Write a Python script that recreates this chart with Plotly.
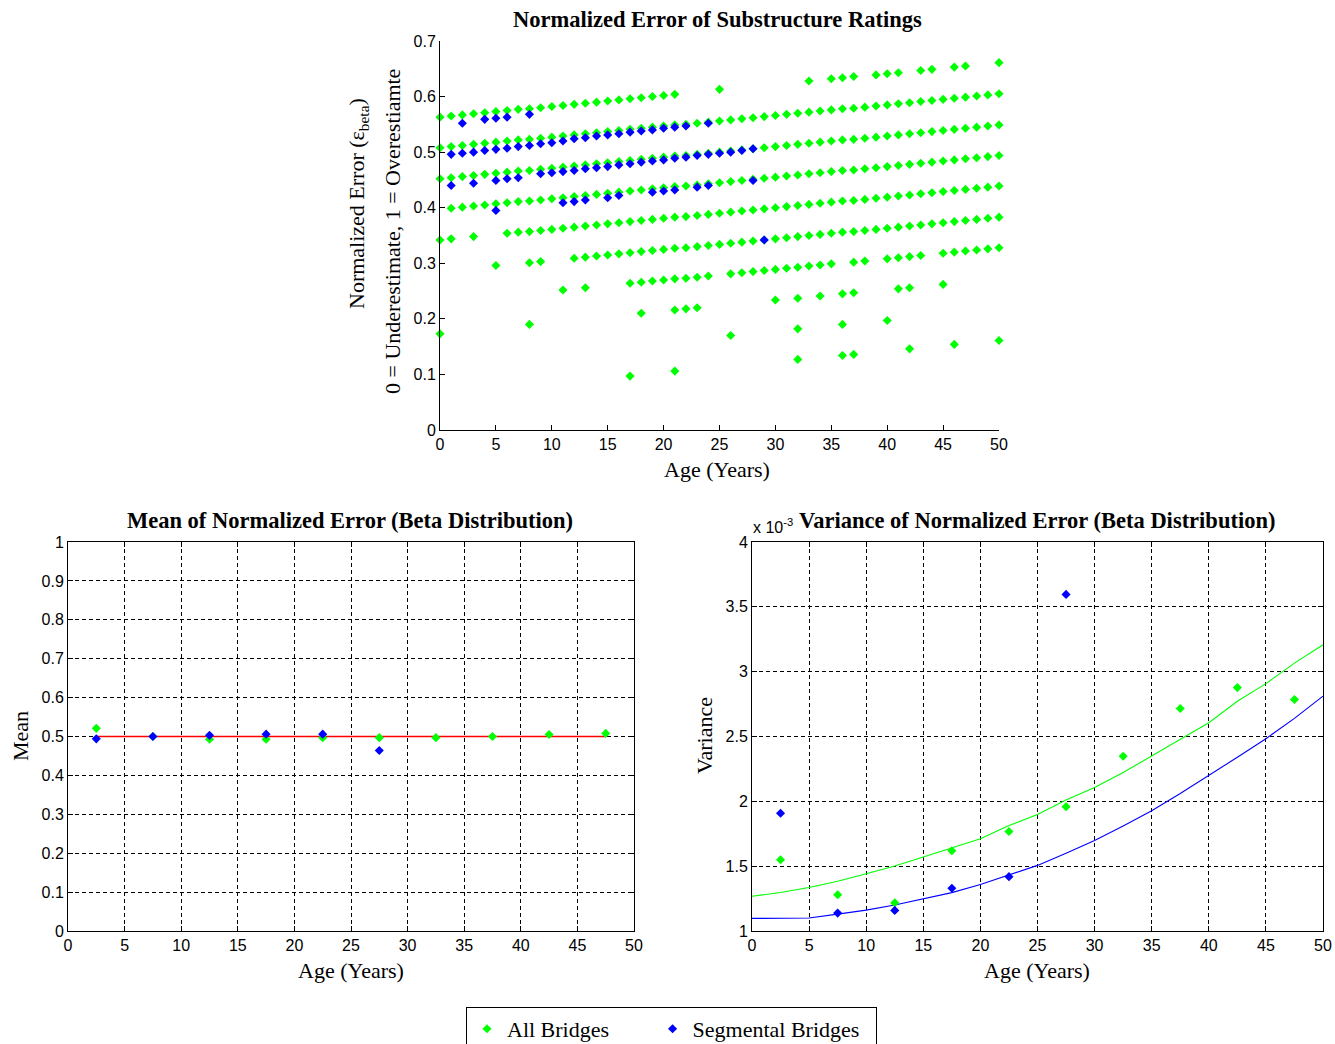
import plotly.graph_objects as go

W, H = 1335, 1044

# ---------------- Top chart: Normalized error of substructure ratings ----------------
# "All Bridges" (green), listed row by row
row0_age = [0, 1, 2, 3, 4, 5, 6, 7, 8, 9, 10, 11, 12, 13, 14, 15, 16, 17, 18, 19, 20, 21,
            25, 33, 35, 36, 37, 39, 40, 41, 43, 44, 46, 47, 50]
row0_val = [0.563, 0.565, 0.567, 0.569, 0.571, 0.573, 0.575, 0.577, 0.578, 0.580, 0.582,
            0.584, 0.586, 0.588, 0.590, 0.592, 0.594, 0.596, 0.598, 0.600, 0.602, 0.604,
            0.613, 0.628, 0.632, 0.634, 0.636, 0.639, 0.641, 0.643, 0.647, 0.649, 0.653,
            0.655, 0.661]

row1_age = [0, 1, 2, 3, 4, 5, 6, 7, 8, 9, 10, 11, 12, 13, 14, 15, 16, 17, 18, 19, 20, 21,
            22, 23, 24, 25, 26, 27, 28, 29, 30, 31, 32, 33, 34, 35, 36, 37, 38, 39, 40, 41,
            42, 43, 44, 45, 46, 47, 48, 49, 50]
row1_val = [0.508, 0.510, 0.512, 0.514, 0.516, 0.518, 0.520, 0.522, 0.523, 0.525,
            0.527, 0.529, 0.531, 0.533, 0.535, 0.537, 0.539, 0.541, 0.543, 0.545,
            0.547, 0.549, 0.550, 0.552, 0.554, 0.556, 0.558, 0.560, 0.562, 0.564,
            0.566, 0.568, 0.570, 0.572, 0.574, 0.576, 0.578, 0.579, 0.581, 0.583,
            0.585, 0.587, 0.589, 0.591, 0.593, 0.595, 0.597, 0.599, 0.601, 0.603, 0.605]

row2_age = [0, 1, 2, 3, 4, 5, 6, 7, 8, 9, 10, 11, 12, 13, 14, 15, 16, 17, 18, 19, 20, 21,
            22, 23, 24, 25, 26, 27, 28, 29, 30, 31, 32, 33, 34, 35, 36, 37, 38, 39, 40, 41,
            42, 43, 44, 45, 46, 47, 48, 49, 50]
row2_val = [0.452, 0.454, 0.456, 0.458, 0.460, 0.462, 0.464, 0.466, 0.467, 0.469,
            0.471, 0.473, 0.475, 0.477, 0.479, 0.481, 0.483, 0.485, 0.487, 0.489,
            0.491, 0.493, 0.494, 0.496, 0.498, 0.500, 0.502, 0.504, 0.506, 0.508,
            0.510, 0.512, 0.514, 0.516, 0.518, 0.520, 0.522, 0.523, 0.525, 0.527,
            0.529, 0.531, 0.533, 0.535, 0.537, 0.539, 0.541, 0.543, 0.545, 0.547, 0.549]

row3_age = [1, 2, 3, 4, 5, 6, 7, 8, 9, 10, 11, 12, 13, 14, 15, 16, 17, 18, 19, 20, 21,
            22, 23, 24, 25, 26, 27, 28, 29, 30, 31, 32, 33, 34, 35, 36, 37, 38, 39, 40, 41,
            42, 43, 44, 45, 46, 47, 48, 49, 50]
row3_val = [0.399, 0.401, 0.403, 0.405, 0.407, 0.409, 0.411, 0.412, 0.414, 0.416,
            0.418, 0.420, 0.422, 0.424, 0.426, 0.428, 0.430, 0.432, 0.434, 0.436,
            0.438, 0.439, 0.441, 0.443, 0.445, 0.447, 0.449, 0.451, 0.453, 0.455,
            0.457, 0.459, 0.461, 0.463, 0.465, 0.467, 0.468, 0.470, 0.472, 0.474,
            0.476, 0.478, 0.480, 0.482, 0.484, 0.486, 0.488, 0.490, 0.492, 0.494]

row4_age = [0, 1, 3, 6, 7, 8, 9, 10, 11, 12, 13, 14, 15, 16, 17, 18, 19, 20, 21,
            22, 23, 24, 25, 26, 27, 28, 29, 30, 31, 32, 33, 34, 35, 36, 37, 38, 39, 40, 41,
            42, 43, 44, 45, 46, 47, 48, 49, 50]
row4_val = [0.342, 0.344, 0.348, 0.354, 0.356, 0.357, 0.359, 0.361,
            0.363, 0.365, 0.367, 0.369, 0.371, 0.373, 0.375, 0.377, 0.379, 0.381,
            0.383, 0.384, 0.386, 0.388, 0.390, 0.392, 0.394, 0.396, 0.398, 0.400,
            0.402, 0.404, 0.406, 0.408, 0.410, 0.412, 0.413, 0.415, 0.417, 0.419,
            0.421, 0.423, 0.425, 0.427, 0.429, 0.431, 0.433, 0.435, 0.437, 0.439]

row5_age = [5, 8, 9, 12, 13, 14, 15, 16, 17, 18, 19, 20, 21,
            22, 23, 24, 25, 26, 27, 28, 29, 30, 31, 32, 33, 34, 35, 36, 37, 38, 39, 40, 41,
            42, 43, 44, 45, 46, 47, 48, 49, 50]
row5_val = [0.296, 0.301, 0.303, 0.309, 0.311, 0.313, 0.315, 0.317, 0.319, 0.321, 0.323,
            0.325, 0.327, 0.328, 0.330, 0.332, 0.334, 0.336, 0.338, 0.340, 0.342, 0.344,
            0.346, 0.348, 0.350, 0.352, 0.354, 0.356, 0.357, 0.359, 0.361, 0.363,
            0.365, 0.367, 0.369, 0.371, 0.373, 0.375, 0.377, 0.379, 0.381, 0.383]

row6_age = [11, 13, 17, 18, 19, 20, 21, 22, 23, 24, 26, 27, 28, 29, 30, 31, 32, 33, 34,
            35, 37, 38, 40, 41, 42, 43, 45, 46, 47, 48, 49, 50]
row6_val = [0.252, 0.256, 0.264, 0.266, 0.268, 0.270, 0.272, 0.273, 0.275, 0.277, 0.281,
            0.283, 0.285, 0.287, 0.289, 0.291, 0.293, 0.295, 0.297, 0.299, 0.302, 0.304,
            0.308, 0.310, 0.312, 0.314, 0.318, 0.320, 0.322, 0.324, 0.326, 0.328]

row7_age = [0, 8, 18, 21, 22, 23, 30, 32, 34, 36, 37, 41, 42, 45]
row7_val = [0.173, 0.190, 0.210, 0.216, 0.218, 0.220, 0.234, 0.237, 0.241, 0.245, 0.247,
            0.254, 0.256, 0.262]

row8_age = [26, 32, 36, 40]
row8_val = [0.170, 0.182, 0.190, 0.197]

row9_age = [17, 21, 32, 36, 37, 42, 46, 50]
row9_val = [0.097, 0.106, 0.127, 0.134, 0.136, 0.146, 0.154, 0.161]

# "Segmental Bridges" (blue)
seg0_age = [2, 4, 5, 6, 8]
seg0_val = [0.552, 0.559, 0.561, 0.563, 0.568]
seg1_age = [1, 2, 3, 4, 5, 6, 7, 8, 9, 10, 11, 12, 13, 14, 15, 16, 17, 18, 19, 20, 21, 22, 24]
seg1_val = [0.496, 0.498, 0.500, 0.503, 0.505, 0.507, 0.510, 0.512, 0.515, 0.517, 0.520,
            0.524, 0.526, 0.529, 0.531, 0.533, 0.536, 0.538, 0.540, 0.543, 0.545, 0.547,
            0.552]
seg2_age = [1, 3, 5, 6, 7, 9, 10, 11, 12, 13, 14, 15, 16, 17, 18, 19, 20, 21, 22, 23, 24,
            25, 26, 27, 28]
seg2_val = [0.440, 0.444, 0.449, 0.452, 0.454, 0.461, 0.463, 0.465, 0.467, 0.470, 0.472,
            0.474, 0.477, 0.479, 0.482, 0.484, 0.486, 0.489, 0.491, 0.494, 0.496, 0.498,
            0.500, 0.503, 0.506]
seg3_age = [5, 11, 12, 13, 15, 16, 19, 20, 21, 23, 24, 28]
seg3_val = [0.395, 0.409, 0.411, 0.414, 0.418, 0.422, 0.428, 0.430, 0.432, 0.437, 0.440,
            0.449]
seg4_age = [29]
seg4_val = [0.342]

# ---------------- Bottom charts ----------------
bin_age = [2.5, 7.5, 12.5, 17.5, 22.5, 27.5, 32.5, 37.5, 42.5, 47.5]
mean_all = [0.521, 0.500, 0.493, 0.493, 0.497, 0.497, 0.497, 0.500, 0.505, 0.508]
seg_bin_age = [2.5, 7.5, 12.5, 17.5, 22.5, 27.5]
mean_seg = [0.494, 0.500, 0.503, 0.506, 0.506, 0.464]
fit_mean_age = [2.5, 47.5]
fit_mean = [0.5, 0.5]

# variance, in units of 1e-3
var_all = [1.550, 1.279, 1.217, 1.619, 1.767, 1.959, 2.348, 2.716, 2.877, 2.785]
var_seg = [1.908, 1.138, 1.159, 1.330, 1.419, 3.596]
fit_age = [0, 2.5, 5, 7.5, 10, 12.5, 15, 17.5, 20, 22.5, 25, 27.5, 30, 32.5, 35, 37.5, 40,
           42.5, 45, 47.5, 50]
fit_var_all = [1.268, 1.297, 1.335, 1.384, 1.442, 1.501, 1.570, 1.642, 1.711, 1.813, 1.898,
               2.010, 2.107, 2.222, 2.350, 2.478, 2.606, 2.772, 2.908, 3.066, 3.207]
fit_var_seg = [1.097, 1.097, 1.100, 1.130, 1.161, 1.200, 1.246, 1.296, 1.358, 1.430, 1.506,
               1.600, 1.698, 1.810, 1.928, 2.060, 2.197, 2.340, 2.483, 2.640, 2.811]

x_ticks = [0, 5, 10, 15, 20, 25, 30, 35, 40, 45, 50]
top_y_ticks = [0, 0.1, 0.2, 0.3, 0.4, 0.5, 0.6, 0.7]
mean_y_ticks = [0, 0.1, 0.2, 0.3, 0.4, 0.5, 0.6, 0.7, 0.8, 0.9, 1]
mean_y_labels = ["0", "0.1", "0.2", "0.3", "0.4", "0.5", "0.6", "0.7", "0.8", "0.9", "1"]
var_y_ticks = [1, 1.5, 2, 2.5, 3, 3.5, 4]
var_y_labels = ["1", "1.5", "2", "2.5", "3", "3.5", "4"]

GREEN = "#00FF00"
BLUE = "#0000FF"
RED = "#FF0000"
SERIF = "Liberation Serif"
SANS = "Liberation Sans"
MSIZE = 7
NB = "\u00a0"

all_age = (row0_age + row1_age + row2_age + row3_age + row4_age + row5_age + row6_age
           + row7_age + row8_age + row9_age)
all_val = (row0_val + row1_val + row2_val + row3_val + row4_val + row5_val + row6_val
           + row7_val + row8_val + row9_val)
seg_age = seg0_age + seg1_age + seg2_age + seg3_age + seg4_age
seg_val = seg0_val + seg1_val + seg2_val + seg3_val + seg4_val

fig = go.Figure()

# Top
fig.add_trace(go.Scatter(x=all_age, y=all_val, mode="markers",
                         name="All Bridges" + NB * 7,
                         marker=dict(symbol="diamond", size=MSIZE, color=GREEN),
                         xaxis="x", yaxis="y", cliponaxis=False))
fig.add_trace(go.Scatter(x=seg_age, y=seg_val, mode="markers",
                         name="Segmental Bridges" + NB * 2,
                         marker=dict(symbol="diamond", size=MSIZE, color=BLUE),
                         xaxis="x", yaxis="y", cliponaxis=False))

# Bottom-left: mean
fig.add_trace(go.Scatter(x=fit_mean_age, y=fit_mean, mode="lines", showlegend=False,
                         line=dict(color=RED, width=1.3), xaxis="x2", yaxis="y2"))
fig.add_trace(go.Scatter(x=bin_age, y=mean_all, mode="markers", showlegend=False,
                         marker=dict(symbol="diamond", size=MSIZE, color=GREEN),
                         xaxis="x2", yaxis="y2"))
fig.add_trace(go.Scatter(x=seg_bin_age, y=mean_seg, mode="markers", showlegend=False,
                         marker=dict(symbol="diamond", size=MSIZE, color=BLUE),
                         xaxis="x2", yaxis="y2"))

# Bottom-right: variance
fig.add_trace(go.Scatter(x=fit_age, y=fit_var_all, mode="lines", showlegend=False,
                         line=dict(color=GREEN, width=1.1), xaxis="x3", yaxis="y3"))
fig.add_trace(go.Scatter(x=fit_age, y=fit_var_seg, mode="lines", showlegend=False,
                         line=dict(color=BLUE, width=1.1), xaxis="x3", yaxis="y3"))
fig.add_trace(go.Scatter(x=bin_age, y=var_all, mode="markers", showlegend=False,
                         marker=dict(symbol="diamond", size=MSIZE, color=GREEN),
                         xaxis="x3", yaxis="y3"))
fig.add_trace(go.Scatter(x=seg_bin_age, y=var_seg, mode="markers", showlegend=False,
                         marker=dict(symbol="diamond", size=MSIZE, color=BLUE),
                         xaxis="x3", yaxis="y3"))


def px_x(p):
    return p / W


def px_y(p):
    return 1 - p / H


tickfont = dict(family=SANS, size=16, color="black")

top_axis = dict(showline=True, linecolor="black", linewidth=1, ticks="inside",
                ticklen=5, tickcolor="black", showgrid=False, zeroline=False,
                tickfont=tickfont, mirror=False, automargin=False)
grid_axis = dict(showline=True, linecolor="black", linewidth=1, ticks="inside",
                 ticklen=5, tickcolor="black", showgrid=True, gridcolor="black",
                 gridwidth=1, griddash="4px,3px", zeroline=False, tickfont=tickfont,
                 mirror="ticks", automargin=False)

fig.update_layout(
    width=W, height=H,
    margin=dict(l=0, r=0, t=0, b=0, autoexpand=False),
    paper_bgcolor="white", plot_bgcolor="white",
    xaxis=dict(domain=[px_x(440), px_x(999)], range=[0, 50], tickvals=x_ticks,
               anchor="y", **top_axis),
    yaxis=dict(domain=[px_y(430), px_y(41)], range=[0, 0.7], tickvals=top_y_ticks,
               anchor="x", **top_axis),
    xaxis2=dict(domain=[px_x(68), px_x(634)], range=[0, 50], tickvals=x_ticks,
                anchor="y2", **grid_axis),
    yaxis2=dict(domain=[px_y(931), px_y(542)], range=[0, 1], tickvals=mean_y_ticks,
                ticktext=mean_y_labels, anchor="x2", **grid_axis),
    xaxis3=dict(domain=[px_x(752), px_x(1323)], range=[0, 50], tickvals=x_ticks,
                anchor="y3", **grid_axis),
    yaxis3=dict(domain=[px_y(931), px_y(542)], range=[1, 4], tickvals=var_y_ticks,
                ticktext=var_y_labels, anchor="x3", **grid_axis),
    legend=dict(orientation="h", x=px_x(466), y=px_y(1007), xanchor="left", yanchor="top",
                bordercolor="black", borderwidth=1, bgcolor="white",
                font=dict(family=SERIF, size=22, color="black"),
                itemwidth=30, tracegroupgap=0),
    showlegend=True,
)

ann = []


def add_text(text, x, y, size=22, bold=False, angle=0, xanchor="center", family=SERIF):
    ann.append(dict(text=("<b>%s</b>" % text) if bold else text, x=px_x(x), y=px_y(y),
                    xref="paper", yref="paper", showarrow=False, textangle=angle,
                    xanchor=xanchor, yanchor="middle",
                    font=dict(family=family, size=size, color="black")))


add_text("Normalized Error of Substructure Ratings", 717, 19, size=22.5, bold=True)
add_text("Age (Years)", 717, 469, size=22)
add_text("Normalized Error (ε<sub>beta</sub>)", 358, 204, size=22, angle=-90)
add_text("0 = Underestimate, 1 = Overestiamte", 392, 232, size=22, angle=-90)

add_text("Mean of Normalized Error (Beta Distribution)", 350, 520, size=22.5, bold=True)
add_text("Age (Years)", 351, 970, size=22)
add_text("Mean", 20, 736, size=22, angle=-90)

add_text("Variance of Normalized Error (Beta Distribution)", 1037, 520, size=22.5, bold=True)
add_text("Age (Years)", 1037, 970, size=22)
add_text("Variance", 704, 736, size=22, angle=-90)
add_text("x 10<sup>-3</sup>", 751, 526, size=16, xanchor="left", family=SANS)

fig.update_layout(annotations=ann)

fig.write_html(
    "out.html",
    config={"displayModeBar": False},
    post_script="document.body.style.margin='0';document.body.style.overflow='hidden';",
)
